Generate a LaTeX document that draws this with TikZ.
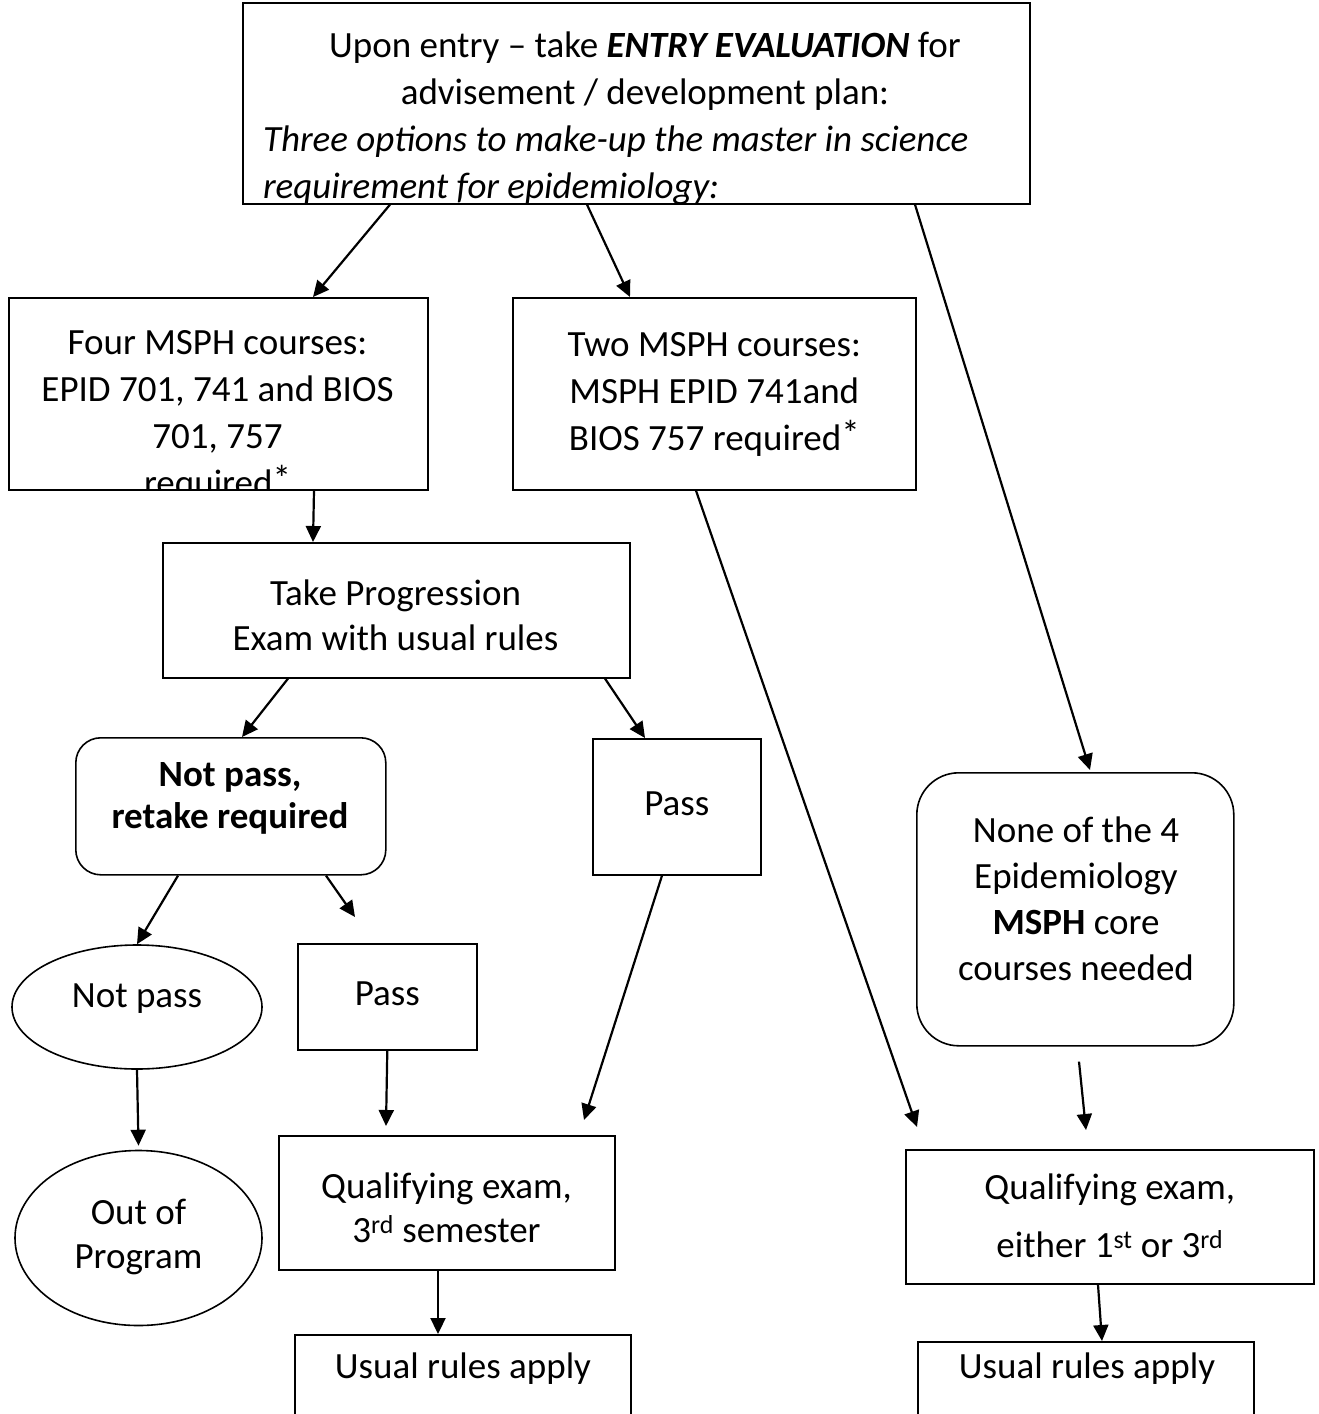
\documentclass[tikz,border=0pt]{standalone}
\usepackage{fontspec}
\setmainfont{Carlito}
\usetikzlibrary{calc,arrows.meta,shapes.geometric}
\newcommand\ml[1]{\begin{tabular}{@{}c@{}}#1\end{tabular}}
\newcommand\reqast{\raisebox{0.1em}{*}}
\begin{document}
\begin{tikzpicture}[x=1pt,y=-1pt,
  box/.style={draw,line width=1.6pt,rectangle,inner sep=0pt,anchor=north west},
  rbox/.style={box,rounded corners=#1},
  oval/.style={draw,line width=1.6pt,ellipse,inner sep=0pt},
  lsk/.style={font=\fontsize{37}{#1}\selectfont},
  txt/.style={inner sep=0pt,lsk=#1},
  conn/.style={line width=2.2pt,-{Triangle[length=16pt,width=15pt]}},
]
\path[use as bounding box] (0,0) rectangle (1318,1414);
\clip (0,0) rectangle (1318,1414);
\fill[white] (0,0) rectangle (1318,1414);

% top box
\node[box,minimum width=787pt,minimum height=201pt] (top) at (242,2) {};
\begin{scope}
  \clip (top.north west) rectangle (top.south east);
  \node[txt=47] (toptxt) at (645,119) {\parbox{764pt}{%
    {\centering\strut Upon entry – take \textbf{\textit{ENTRY EVALUATION}} for\\
     \strut advisement / development plan:\par}%
    {\raggedright\itshape\strut Three options to make-up the master in science\\
     \strut requirement for epidemiology:\par}}};
\end{scope}

% four courses
\node[box,minimum width=419pt,minimum height=192pt] (four) at (8,297) {};
\begin{scope}
  \clip (four.north west) rectangle (four.south east);
  \node[txt=47] (fourtxt) at (217.5,415.5)
    {\ml{Four MSPH courses:\\EPID 701, 741 and BIOS\\701, 757\\required\reqast}};
\end{scope}

% two courses
\node[box,lsk=47,minimum width=403pt,minimum height=192pt] (two) at (512,297)
  {\ml{Two MSPH courses:\\MSPH EPID 741and\\BIOS 757 required\reqast}};

% progression exam
\node[box,minimum width=467pt,minimum height=135pt] (take) at (162,542) {};
\node[txt=45] (taketxt) at (395.5,619) {\ml{Take Progression\\Exam with usual rules}};

% not pass, retake
\node[rbox=25pt,minimum width=310pt,minimum height=137pt] (retake) at (75,737) {};
\node[txt=42] (retaketxt) at (230,799) {\bfseries\ml{Not pass,\\retake required}};

% pass (first)
\node[box,lsk=45,minimum width=168pt,minimum height=136pt] (pass1) at (592,738) {\ml{Pass}};

% not pass ellipse
\node[oval,minimum width=250pt,minimum height=124pt] (np) at (137,1007) {};
\node[txt=45] (nptxt) at (137,998.4) {\ml{Not pass}};

% pass (second)
\node[box,lsk=45,minimum width=179pt,minimum height=106pt] (pass2) at (297,943) {\ml{Pass}};

% out of program
\node[oval,lsk=44,minimum width=247pt,minimum height=175pt] (out) at (138.5,1238)
  {\ml{Out of\\Program}};

% none of the 4
\node[rbox=42pt,minimum width=317pt,minimum height=273pt] (none) at (916,772) {};
\node[txt=46] (nonetxt) at (1076,902.4)
  {\ml{None of the 4\\Epidemiology\\\textbf{MSPH} core\\courses needed}};

% qualifying exams
\node[box,minimum width=336pt,minimum height=134pt] (qual1) at (278,1135) {};
\node[txt=44] (qual1txt) at (446.5,1212) {\ml{Qualifying exam,\\3\textsuperscript{rd} semester}};

\node[box,lsk=58,minimum width=408pt,minimum height=134pt] (qual2) at (905,1149)
  {\ml{Qualifying exam,\\either 1\textsuperscript{st} or 3\textsuperscript{rd}}};

% usual rules
\node[box,minimum width=336pt,minimum height=120pt] (usual1) at (294,1334) {};
\node[txt=45] (usual1txt) at (463,1369) {\ml{Usual rules apply}};
\node[box,minimum width=336pt,minimum height=120pt] (usual2) at (917,1341) {};
\node[txt=45] (usual2txt) at (1087,1369) {\ml{Usual rules apply}};

% free ends
\coordinate (hEnd) at ($(pass2.north west)+(58,-26)$);
\coordinate (jEnd) at ($(qual1.north west)+(108,-9)$);
\coordinate (kEnd) at ($(qual1.north west)+(306,-15)$);
\coordinate (lEnd) at ($(qual2.north west)+(12,-22)$);
\coordinate (mStart) at ($(none.south west)+(163,15)$);
\coordinate (mEnd) at ($(qual2.north west)+(181,-19)$);

% connectors
\draw[conn] ($(top.south west)+(148,0)$) -- ($(four.north west)+(305,0)$);
\draw[conn] ($(top.south west)+(345,0)$) -- ($(two.north west)+(118,0)$);
\draw[conn] ($(top.south west)+(673,0)$) -- ($(none.north west)+(174,-2)$);
\draw[conn] ($(four.south west)+(306,0)$) -- ($(take.north west)+(151,0)$);
\draw[conn] ($(take.south west)+(126,0)$) -- ($(retake.north west)+(167,0)$);
\draw[conn] ($(take.south west)+(443,0)$) -- ($(pass1.north west)+(53,0)$);
\draw[conn] ($(retake.south west)+(103,0)$) -- (np.north);
\draw[conn] ($(retake.south west)+(251,0)$) -- (hEnd);
\draw[conn] (np.south) -- ($(out.north)+(0,-4)$);
\draw[conn] (pass2.south) -- (jEnd);
\draw[conn] ($(pass1.south west)+(70,0)$) -- (kEnd);
\draw[conn] ($(two.south west)+(184,0)$) -- (lEnd);
\draw[conn] (mStart) -- (mEnd);
\draw[conn] ($(qual1.south west)+(160,0)$) -- ($(usual1.north west)+(144,0)$);
\draw[conn] ($(qual2.south west)+(193,0)$) -- ($(usual2.north west)+(185,0)$);
\end{tikzpicture}
\end{document}
